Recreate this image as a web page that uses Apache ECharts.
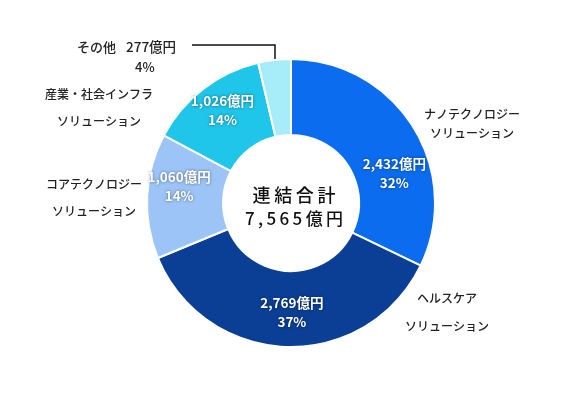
<!DOCTYPE html>
<html>
<head>
<meta charset="utf-8">
<script src="https://cdn.jsdelivr.net/npm/echarts@6/dist/echarts.min.js"></script>
<style>
  html, body { margin: 0; padding: 0; background: #fff; }
  #mycharts { width: 580px; height: 400px; }
</style>
</head>
<body>
<div id="mycharts"></div>
<script>
// セグメント（時計回り、12時から）
const segments = ['ナノテクノロジーソリューション', 'ヘルスケアソリューション', 'コアテクノロジーソリューション', '産業・社会インフラソリューション', 'その他']
const outerNames = ['ナノテクノロジー\nソリューション', 'ヘルスケア\nソリューション', 'コアテクノロジー\nソリューション', '産業・社会インフラ\nソリューション', 'その他']
const sales = [2432, 2769, 1060, 1026, 277]
const shares = [32, 37, 14, 14, 4]
const colors = ['#0b6cf0', '#0a3f95', '#9cc4f7', '#1fc6e9', '#a6edf9']
const totalLabel = ['連結合計', '7,565億円']

const FONT = '"Noto Sans CJK JP", "Noto Sans", sans-serif'
const CX = 291, CY = 203

// 外側ラベルの位置
const outerPos = [
  { x: 472, y: 124, align: 'center', lh: 19 },
  { x: 447, y: 312, align: 'center', lh: 28 },
  { x: 94, y: 198, align: 'center', lh: 27 },
  { x: 99, y: 108, align: 'center', lh: 27 },
  { x: 77, y: 57, align: 'left', lh: 20 }
]
// 内側ラベルのずらし
const innerShift = [[11, 28], [4, 0], [-3, -11], [-2, -6], [0, 0]]

// 文字間を少し空ける
const spaced = (s) => s.split('').join('\u2009')

let myCharts = echarts.init(document.getElementById('mycharts'))

let innerData = []
let outerData = []
sales.map((v, i) => {
  innerData.push({
    name: segments[i],
    value: v,
    itemStyle: { color: colors[i] },
    label: { show: i !== 4 }
  })
  outerData.push({
    name: outerNames[i],
    value: v,
    label: i === 4 ? {
      formatter: '{a|その他}{c|' + v.toLocaleString('en-US') + '億円}\n{b|' + shares[i] + '%}'
    } : { lineHeight: outerPos[i].lh }
  })
})

let options = {
  animation: false,
  series: [
    {
      name: 'inner',
      type: 'pie',
      center: [CX, CY],
      radius: [68, 144],
      startAngle: 90,
      clockwise: true,
      silent: true,
      itemStyle: {
        borderColor: '#fff',
        borderWidth: 2
      },
      label: {
        position: 'inside',
        color: '#fff',
        fontFamily: FONT,
        fontWeight: 'bold',
        fontSize: 13.5,
        lineHeight: 19,
        textShadowColor: 'rgba(0,0,0,0.5)',
        textShadowBlur: 3,
        formatter: (p) => p.value.toLocaleString('en-US') + '億円\n' + shares[p.dataIndex] + '%'
      },
      labelLine: { show: false },
      labelLayout: (p) => ({ dx: innerShift[p.dataIndex][0], dy: innerShift[p.dataIndex][1] }),
      data: innerData
    },
    {
      name: 'outer',
      type: 'pie',
      center: [CX, CY],
      radius: [68, 144],
      startAngle: 90,
      clockwise: true,
      silent: true,
      itemStyle: { color: 'transparent' },
      label: {
        position: 'outside',
        overflow: 'none',
        color: '#222',
        fontFamily: FONT,
        fontWeight: 500,
        fontSize: 12,
        lineHeight: 20,
        formatter: '{b}',
        rich: {
          a: { fontFamily: FONT, fontWeight: 500, fontSize: 13, color: '#222', lineHeight: 20 },
          c: { fontFamily: FONT, fontWeight: 500, fontSize: 13.5, color: '#222', lineHeight: 20, padding: [0, 0, 0, 10] },
          b: { fontFamily: FONT, fontWeight: 500, fontSize: 13, color: '#222', lineHeight: 20, padding: [0, 0, 0, 58] }
        }
      },
      labelLine: { show: false },
      labelLayout: (p) => {
        let pos = outerPos[p.dataIndex]
        return { x: pos.x, y: pos.y, align: pos.align, verticalAlign: 'middle' }
      },
      data: outerData
    }
  ],
  graphic: [
    {
      type: 'text',
      silent: true,
      style: {
        text: '{t|' + spaced(totalLabel[0]) + '}\n{v|' + spaced(totalLabel[1]) + '}',
        x: CX + 3,
        y: CY + 4,
        align: 'center',
        verticalAlign: 'middle',
        fill: '#111',
        rich: {
          t: { fontFamily: FONT, fontWeight: 500, fontSize: 18, lineHeight: 24, fill: '#111' },
          v: { fontFamily: FONT, fontWeight: 500, fontSize: 17, lineHeight: 24, fill: '#111' }
        }
      }
    },
    {
      type: 'polyline',
      silent: true,
      shape: { points: [[192, 45], [275, 45], [275, 63]] },
      style: { stroke: '#111', lineWidth: 1.5, fill: null }
    }
  ]
}
myCharts.setOption(options)
</script>
</body>
</html>
